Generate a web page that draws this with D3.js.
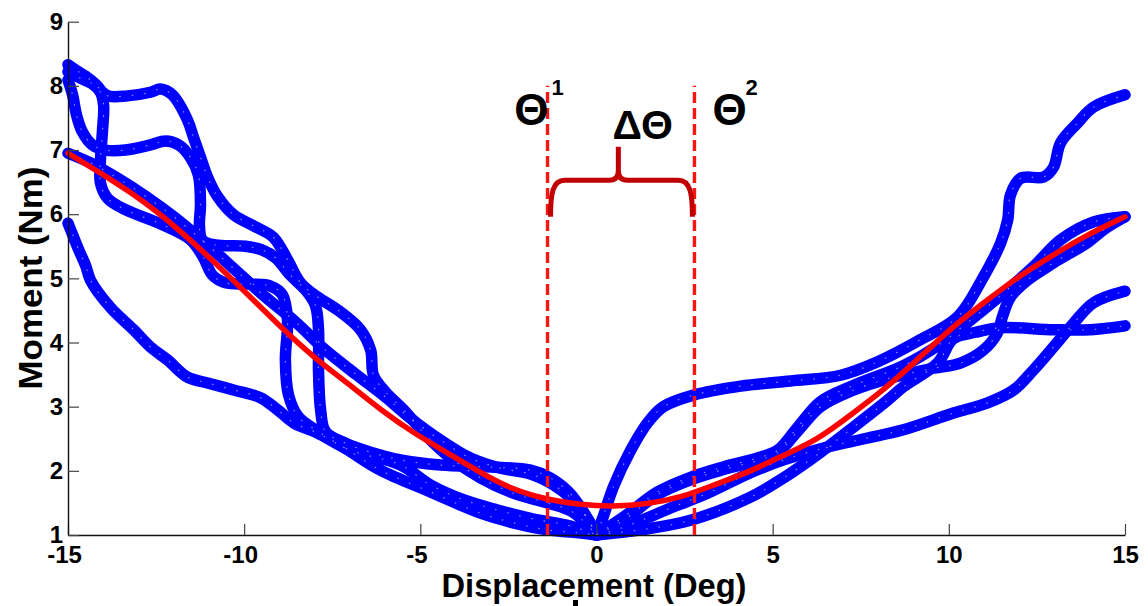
<!DOCTYPE html>
<html>
<head>
<meta charset="utf-8">
<script src="https://cdn.jsdelivr.net/npm/d3@7"></script>
<style>
  body { margin: 0; background: #fff; }
  svg { display: block; font-family: "Liberation Sans", Arial, sans-serif; }
</style>
</head>
<body>
<svg id="chart" width="1148" height="606"></svg>
<script>
// Axis ticks
const xTicks = [-15, -10, -5, 0, 5, 10, 15];
const yTicks = [1, 2, 3, 4, 5, 6, 7, 8, 9];

// Measured moment (Nm) vs displacement (deg), negative side of each trial
const trialLeft1 = [[-15,8.33],[-14.79,8.25],[-14.50,8.15],[-14.19,8.01],[-14.02,7.90],[-13.85,7.84],[-13.37,7.84],[-12.66,7.90],[-12.38,7.95],[-12.04,7.86],[-11.61,7.47],[-11.44,7.20],[-11.24,6.89],[-11.04,6.58],[-10.75,6.27],[-10.30,5.99],[-9.74,5.82],[-9.17,5.64],[-8.77,5.29],[-8.40,4.93],[-7.92,4.71],[-7.35,4.51],[-6.70,4.20],[-6.41,3.88],[-6.33,3.49],[-5.99,3.23],[-5.42,2.92],[-4.85,2.56],[-4.14,2.20],[-3.29,1.89],[-2.30,1.64],[-1.39,1.50],[-0.68,1.36],[0,1.00]];
const trialLeft2 = [[-15,8.09],[-14.87,7.86],[-14.76,7.55],[-14.59,7.28],[-14.31,7.08],[-13.94,7.00],[-13.37,7.00],[-12.66,7.08],[-12.23,7.14],[-11.86,7.08],[-11.52,6.88],[-11.30,6.61],[-11.24,6.14],[-11.27,5.83],[-11.19,5.60],[-10.81,5.52],[-9.96,5.50],[-9.48,5.44],[-9.11,5.32],[-8.69,5.05],[-8.26,4.82],[-7.98,4.58],[-7.89,4.20],[-7.89,3.57],[-7.83,2.95],[-7.69,2.61],[-7.12,2.43],[-6.41,2.29],[-5.56,2.17],[-4.43,2.09],[-3.01,2.06],[-1.87,2.01],[-1.31,1.89],[-0.79,1.67],[-0.37,1.36],[0,1.00]];
const trialLeft3 = [[-15,8.22],[-14.65,8.12],[-14.31,8.03],[-14.08,7.90],[-13.99,7.70],[-14.02,7.31],[-14.08,6.84],[-14.08,6.49],[-13.88,6.25],[-13.37,6.07],[-12.38,5.85],[-11.52,5.60],[-11.16,5.33],[-10.90,5.05],[-10.53,4.93],[-9.82,4.91],[-9.25,4.88],[-8.91,4.74],[-8.77,4.35],[-8.83,3.73],[-8.74,3.18],[-8.46,2.84],[-7.89,2.61],[-7.07,2.33],[-6.13,2.01],[-4.71,1.67],[-3.29,1.34],[-2.36,1.19],[-1.39,1.08],[-0.45,1.03],[0,1.00]];
const trialLeft4 = [[-15,6.95],[-14.36,6.80],[-13.65,6.58],[-12.80,6.28],[-11.95,5.94],[-11.10,5.55],[-10.25,5.13],[-9.40,4.71],[-8.54,4.32],[-7.69,3.88],[-6.84,3.51],[-5.99,3.15],[-5.28,2.82],[-4.43,2.48],[-3.58,2.20],[-2.72,2.04],[-1.87,1.95],[-1.22,1.78],[-0.68,1.55],[-0.23,1.23],[0,1.00]];
const trialLeft5 = [[-15,5.86],[-14.87,5.68],[-14.70,5.45],[-14.50,5.20],[-14.36,4.97],[-13.80,4.55],[-13.14,4.20],[-12.66,3.93],[-12.18,3.73],[-11.61,3.46],[-11.04,3.37],[-10.30,3.26],[-9.54,3.14],[-9.05,2.95],[-8.60,2.75],[-7.92,2.59],[-6.98,2.32],[-5.56,2.09],[-4.71,1.78],[-3.78,1.55],[-2.81,1.39],[-1.87,1.26],[-0.74,1.14],[0,1.00]];

// Positive side of each trial
const trialRight1 = [[0,1.00],[0.20,1.30],[0.48,1.75],[0.97,2.32],[1.45,2.75],[1.90,3.00],[2.75,3.18],[4.09,3.32],[5.51,3.40],[6.93,3.49],[7.98,3.70],[9.11,4.02],[10.25,4.40],[10.98,5.02],[11.47,5.55],[11.67,5.91],[11.75,6.30],[12.04,6.56],[12.69,6.58],[12.97,6.73],[13.17,7.11],[13.65,7.42],[14.11,7.67],[15,7.86]];
const trialRight2 = [[0,1.00],[0.77,1.28],[1.73,1.67],[2.67,1.90],[3.60,2.06],[4.57,2.20],[5.14,2.32],[5.71,2.68],[6.36,3.08],[7.29,3.33],[8.71,3.64],[9.68,3.95],[10.62,4.35],[11.55,4.77],[12.40,5.18],[13.17,5.60],[14.11,5.88],[15,5.96]];
const trialRight3 = [[0,1.00],[0.77,1.23],[1.73,1.63],[2.67,1.86],[3.60,2.02],[4.57,2.16],[5.14,2.28],[5.71,2.62],[6.36,3.00],[7.21,3.24],[8.43,3.46],[9.57,3.60],[10.33,3.68],[10.98,3.88],[11.38,4.15],[11.52,4.40],[11.75,4.71],[12.23,4.97],[12.97,5.24],[13.94,5.56],[14.45,5.78],[15,5.96]];
const trialRight4 = [[0,1.00],[1.25,1.08],[2.67,1.23],[4.37,1.59],[5.31,1.89],[6.36,2.29],[7.29,2.68],[8.26,3.10],[8.71,3.31],[9.68,3.68],[10.13,4.06],[10.76,4.16],[11.47,4.23],[12.97,4.20],[14.02,4.20],[15,4.26]];
const trialRight5 = [[0,1.00],[0.77,1.12],[2.19,1.44],[3.15,1.65],[4.37,1.97],[5.31,2.17],[6.55,2.37],[7.60,2.50],[8.71,2.64],[10.13,2.90],[11.10,3.06],[11.84,3.26],[12.40,3.57],[12.97,3.93],[13.54,4.30],[14.11,4.62],[15,4.80]];

// Fitted mean curve
const fitCurve = [[-15,6.95],[-13.14,6.33],[-11.81,5.75],[-10.30,4.97],[-8.97,4.24],[-8.03,3.77],[-7.07,3.37],[-6.13,2.95],[-5.19,2.59],[-4.23,2.28],[-3.29,1.97],[-2.36,1.70],[-1.39,1.55],[-0.45,1.47],[0.45,1.44],[1.44,1.48],[2.38,1.58],[3.33,1.78],[4.28,1.97],[5.22,2.22],[6.27,2.48],[7.21,2.87],[8.15,3.26],[9.11,3.73],[10.05,4.22],[10.99,4.62],[11.95,5.02],[12.89,5.34],[13.82,5.65],[15,5.96]];

// Neutral-zone boundaries (deg)
const boundaryAngles = [-1.39, 2.78];
const boundaryTop = 8.0;

const trials = [trialLeft1, trialLeft2, trialLeft3, trialLeft4, trialLeft5,
                trialRight1, trialRight2, trialRight3, trialRight4, trialRight5];

const svg = d3.select("#chart");
const x = d3.scaleLinear().domain([-15, 15]).range([68, 1125]);
const y = d3.scaleLinear().domain([1, 9]).range([535, 21.7]);

const line = d3.line()
  .x(d => x(d[0])).y(d => y(d[1]))
  .curve(d3.curveCatmullRom.alpha(0.5));

// Trial traces
const traces = svg.append("g");
traces.selectAll("path.trace")
  .data(trials).join("path")
  .attr("class", "trace")
  .attr("d", line)
  .attr("fill", "none")
  .attr("stroke", "#0000ff")
  .attr("stroke-width", 11.5)
  .attr("stroke-linecap", "round")
  .attr("stroke-linejoin", "round");
traces.selectAll("path.speck")
  .data(trials).join("path")
  .attr("class", "speck")
  .attr("d", line)
  .attr("fill", "none")
  .attr("stroke", "#c8c8ff")
  .attr("stroke-width", 1.2)
  .attr("stroke-dasharray", "1.5 11")
  .attr("opacity", 0.7);

// Fitted curve
svg.append("path")
  .datum(fitCurve)
  .attr("d", d3.line().x(d => x(d[0])).y(d => y(d[1])).curve(d3.curveBasis))
  .attr("fill", "none")
  .attr("stroke", "#ff0000")
  .attr("stroke-width", 5.5)
  .attr("stroke-linecap", "round");

// Axes
const fmt = d => String(d);
const gx = svg.append("g")
  .attr("transform", `translate(0,${y(1)})`)
  .call(d3.axisBottom(x).tickValues(xTicks).tickFormat(fmt)
        .tickSizeInner(-11).tickSizeOuter(0).tickPadding(11));
const gy = svg.append("g")
  .attr("transform", `translate(${x(-15)},0)`)
  .call(d3.axisLeft(y).tickValues(yTicks).tickFormat(fmt)
        .tickSizeInner(-11).tickSizeOuter(0).tickPadding(5));
[gx, gy].forEach(g => {
  g.select(".domain").attr("stroke", "#111").attr("stroke-width", 1.4);
  g.selectAll(".tick line").attr("stroke", "#444").attr("stroke-width", 1.2);
  g.selectAll(".tick text")
    .attr("fill", "#000")
    .style("font-family", '"Liberation Sans", Arial, sans-serif')
    .style("font-size", "24px")
    .style("font-weight", "bold");
});
gx.selectAll(".tick text").filter(d => d < 0).attr("dx", -4);

// Axis titles
svg.append("text")
  .attr("x", 594).attr("y", 597)
  .attr("text-anchor", "middle")
  .attr("textLength", 305).attr("lengthAdjust", "spacingAndGlyphs")
  .style("font-size", "33px").style("font-weight", "bold")
  .text("Displacement (Deg)");
svg.append("rect").attr("x", 573).attr("y", 600).attr("width", 5).attr("height", 6).attr("fill", "#000");
svg.append("text")
  .attr("transform", "translate(42,278) rotate(-90)")
  .attr("text-anchor", "middle")
  .attr("textLength", 223).attr("lengthAdjust", "spacingAndGlyphs")
  .style("font-size", "34px").style("font-weight", "bold")
  .text("Moment (Nm)");

// Boundary lines
svg.append("g").selectAll("line")
  .data(boundaryAngles).join("line")
  .attr("x1", d => x(d)).attr("x2", d => x(d))
  .attr("y1", y(1)).attr("y2", y(boundaryTop))
  .attr("stroke", "#ff1414")
  .attr("stroke-width", 3.4)
  .attr("stroke-dasharray", "11 5");

// Brace spanning the neutral zone
const X1 = x(boundaryAngles[0]) + 3, X2 = x(boundaryAngles[1]) - 2;
const XM = x(0.62), YB = y(5.96), YR = y(6.53), YT = y(7.05);
const brace = d3.path();
brace.moveTo(X1, YB);
brace.bezierCurveTo(X1, YR + 14, X1 + 2, YR, X1 + 14, YR);
brace.lineTo(XM - 9, YR);
brace.quadraticCurveTo(XM, YR, XM, YR - 10);
brace.lineTo(XM, YT);
brace.moveTo(X2, YB);
brace.bezierCurveTo(X2, YR + 14, X2 - 2, YR, X2 - 14, YR);
brace.lineTo(XM + 9, YR);
brace.quadraticCurveTo(XM, YR, XM, YR - 10);
svg.append("path")
  .attr("d", brace.toString())
  .attr("fill", "none")
  .attr("stroke", "#c00000")
  .attr("stroke-width", 5);

// Annotation labels
const ann = svg.append("g").attr("fill", "#000").style("font-weight", "bold");
ann.append("text").attr("x", x(boundaryAngles[0]) + 1).attr("y", y(7.39))
  .attr("text-anchor", "end").style("font-size", "44px").text("Θ");
ann.append("text").attr("x", x(boundaryAngles[0]) + 4).attr("y", y(7.85))
  .style("font-size", "22px").text("1");
ann.append("text").attr("x", x(boundaryAngles[1]) + 18).attr("y", y(7.39))
  .style("font-size", "44px").text("Θ");
ann.append("text").attr("x", x(boundaryAngles[1]) + 51).attr("y", y(7.85))
  .style("font-size", "22px").text("2");
ann.append("text").attr("x", x(1.31)).attr("y", y(7.17))
  .attr("text-anchor", "middle").style("font-size", "41px").text("ΔΘ");
</script>
</body>
</html>
